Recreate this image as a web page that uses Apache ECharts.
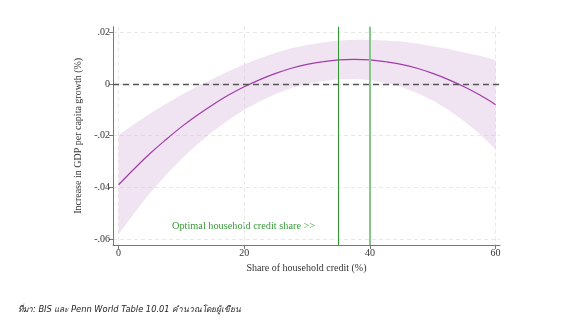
<!DOCTYPE html>
<html>
<head>
<meta charset="utf-8">
<script src="https://cdn.jsdelivr.net/npm/echarts@6/dist/echarts.min.js"></script>
<style>
html,body{margin:0;padding:0;background:#fff;}
#chart{width:587px;height:325px;}
</style>
</head>
<body>
<div id="chart"></div>
<script>
// Data
var xValues  = [0, 2.5, 5, 7.5, 10, 12.5, 15, 17.5, 20, 22.5, 25, 27.5, 30, 32.5, 35, 37.5, 40, 42.5, 45, 47.5, 50, 52.5, 55, 57.5, 60];
var estimate = [-0.0390, -0.0328, -0.0269, -0.0216, -0.0166, -0.0121, -0.0080, -0.0043, -0.0011, 0.0017, 0.0041, 0.0061, 0.0076, 0.0086, 0.0093, 0.0095, 0.0093, 0.0086, 0.0076, 0.0061, 0.0041, 0.0017, -0.0011, -0.0043, -0.0080];
var upperCI  = [-0.0198, -0.0155, -0.0114, -0.0077, -0.0042, -0.0010, 0.0020, 0.0049, 0.0076, 0.0100, 0.0121, 0.0138, 0.0151, 0.0161, 0.0168, 0.0171, 0.0171, 0.0168, 0.0164, 0.0157, 0.0146, 0.0135, 0.0122, 0.0109, 0.0093];
var lowerCI  = [-0.0582, -0.0499, -0.0422, -0.0353, -0.0290, -0.0234, -0.0184, -0.0139, -0.0100, -0.0067, -0.0039, -0.0016, 0.0001, 0.0011, 0.0018, 0.0019, 0.0015, 0.0004, -0.0012, -0.0035, -0.0064, -0.0101, -0.0144, -0.0195, -0.0253];
var xTicks   = [0, 20, 40, 60];
var yTicks   = [-0.06, -0.04, -0.02, 0, 0.02];
var optimalLines = [35, 40];
var xTitle = 'Share of household credit (%)';
var yTitle = 'Increase in GDP per capita growth (%)';
var noteText = 'Optimal household credit share >>';
var sourceText = 'ที่มา: BIS และ Penn World Table 10.01 คำนวณโดยผู้เขียน';

var serif = '"Liberation Serif", "DejaVu Serif", serif';

function pairs(xs, ys) { return xs.map(function (x, i) { return [x, ys[i]]; }); }

function fmtY(v) {
  if (Math.abs(v) < 1e-9) return '0';
  return v.toFixed(2).replace('0.', '.');
}

var chart = echarts.init(document.getElementById('chart'), null, {renderer: 'canvas'});
chart.setOption({
  animation: false,
  backgroundColor: '#ffffff',
  grid: {left: 113, right: 87, top: 26.7, bottom: 80, containLabel: false},
  xAxis: {
    type: 'value', min: -0.89, max: 60.7,
    name: xTitle, nameLocation: 'middle', nameGap: 16,
    nameTextStyle: {fontFamily: serif, fontSize: 10, color: '#333'},
    axisLine: {show: true, onZero: false, lineStyle: {color: '#777', width: 1}},
    axisTick: {show: true, length: 4, customValues: xTicks, lineStyle: {color: '#777'}},
    axisLabel: {customValues: xTicks, fontFamily: serif, fontSize: 10, color: '#333', margin: 3},
    splitLine: {show: true, lineStyle: {color: '#e8e8e8', type: [4, 3], width: 1}}
  },
  yAxis: {
    type: 'value', min: -0.06232, max: 0.02217,
    name: yTitle, nameLocation: 'middle', nameGap: 29, nameRotate: 90,
    nameTextStyle: {fontFamily: serif, fontSize: 10, color: '#333'},
    axisLine: {show: true, onZero: false, lineStyle: {color: '#777', width: 1}},
    axisTick: {show: true, length: 4, customValues: yTicks, lineStyle: {color: '#777'}},
    axisLabel: {customValues: yTicks, formatter: fmtY, fontFamily: serif, fontSize: 10, color: '#333', margin: 3},
    splitLine: {show: true, lineStyle: {color: '#e8e8e8', type: [4, 3], width: 1}}
  },
  series: [
    {
      type: 'custom', silent: true, z: 1,
      data: [0],
      renderItem: function (params, api) {
        var pts = [];
        for (var i = 0; i < xValues.length; i++) pts.push(api.coord([xValues[i], upperCI[i]]));
        for (var j = xValues.length - 1; j >= 0; j--) pts.push(api.coord([xValues[j], lowerCI[j]]));
        return {
          type: 'polygon',
          shape: {points: pts},
          style: {fill: 'rgba(214,178,218,0.35)', stroke: null}
        };
      }
    },
    {
      type: 'line', data: pairs(xValues, estimate), smooth: 0.4, symbol: 'none',
      lineStyle: {color: '#a03ca8', width: 1.2}, z: 4,
      markLine: {
        silent: true, symbol: 'none', label: {show: false},
        data: [
          {yAxis: 0, lineStyle: {color: '#555', width: 1.4, type: [6, 4]}}
        ]
      }
    },
    {
      type: 'line', data: [], z: 5,
      markLine: {
        silent: true, symbol: 'none', label: {show: false},
        data: [
          {xAxis: optimalLines[0], lineStyle: {color: '#2e962e', width: 1, type: 'solid'}},
          {xAxis: optimalLines[1], lineStyle: {color: '#86c686', width: 2, type: 'solid'}}
        ]
      }
    }
  ],
  graphic: [
    {
      type: 'text', left: 172, top: 221,
      style: {text: noteText, fill: '#3a9a3a', font: '10.3px ' + serif}
    },
    {
      type: 'text', left: 18, top: 306,
      style: {text: sourceText, fill: '#222', font: 'italic 8.3px "DejaVu Sans", "Noto Sans", sans-serif'}
    }
  ]
});
</script>
</body>
</html>
